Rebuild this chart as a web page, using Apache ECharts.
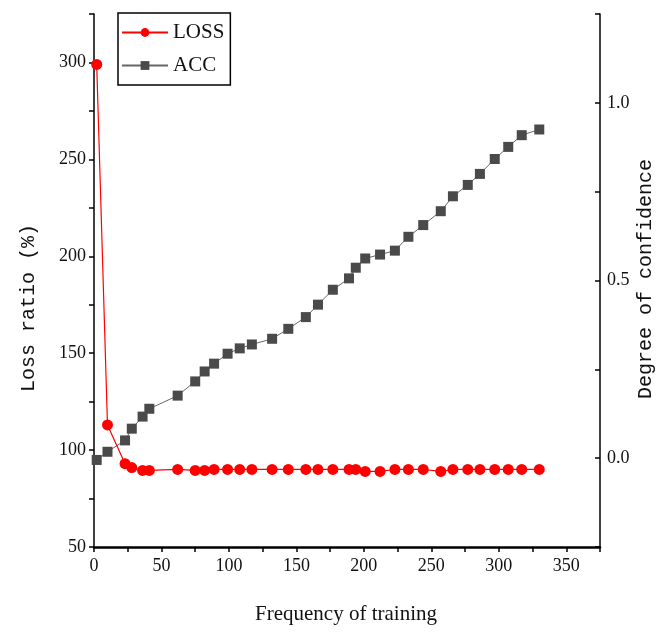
<!DOCTYPE html>
<html>
<head>
<meta charset="utf-8">
<script src="https://cdn.jsdelivr.net/npm/echarts@6/dist/echarts.min.js"></script>
<style>
html,body{margin:0;padding:0;background:#fff;}
#chart{width:657px;height:632px;}
</style>
</head>
<body>
<div id="chart"></div>
<script>
// Data
const iterations = [2, 10, 23, 28, 36, 41, 62, 75, 82, 89, 99, 108, 117, 132, 144, 157, 166, 177, 189, 194, 201, 212, 223, 233, 244, 257, 266, 277, 286, 297, 307, 317, 330];
const lossValues = [299, 113, 93, 91, 89.5, 89.5, 90, 89.5, 89.5, 90, 90, 90, 90, 90, 90, 90, 90, 90, 90, 90, 89, 89, 90, 90, 90, 89, 90, 90, 90, 90, 90, 90, 90];
const accValues = [-0.005, 0.018, 0.05, 0.083, 0.117, 0.139, 0.176, 0.216, 0.244, 0.266, 0.294, 0.309, 0.32, 0.336, 0.364, 0.397, 0.432, 0.474, 0.506, 0.536, 0.562, 0.573, 0.584, 0.623, 0.656, 0.695, 0.737, 0.769, 0.8, 0.842, 0.876, 0.909, 0.925];
const seriesNames = ['LOSS', 'ACC'];
const xAxisTitle = 'Frequency of training';
const leftAxisTitle = 'Loss ratio (%)';
const rightAxisTitle = 'Degree of confidence';

const FONT = '"Liberation Serif", "DejaVu Serif", serif';
const MONO = '"Liberation Mono", "DejaVu Sans Mono", monospace';
const chart = echarts.init(document.getElementById('chart'), null, {renderer: 'canvas'});

const lossData = iterations.map((x, i) => [x, lossValues[i]]);
const accData = iterations.map((x, i) => [x, accValues[i]]);

chart.setOption({
  animation: false,
  backgroundColor: '#fff',
  grid: {left: 94, right: 57, top: 14, bottom: 85, containLabel: false, outerBoundsMode: 'none'},
  legend: {
    left: 118, top: 13,
    orient: 'vertical',
    data: seriesNames,
    itemWidth: 46, itemHeight: 11,
    itemGap: 12,
    padding: [9, 6, 9, 3],
    borderColor: '#000', borderWidth: 1.5,
    textStyle: {fontFamily: FONT, fontSize: 21, color: '#111'}
  },
  xAxis: {
    type: 'value', min: 0, max: 375, interval: 25,
    axisLine: {show: true, onZero: false, lineStyle: {color: '#000', width: 2.5}},
    axisTick: {show: true, inside: false, length: 5, lineStyle: {color: '#000', width: 1.5}},
    axisLabel: {
      fontFamily: FONT, fontSize: 18, color: '#111', margin: 10,
      formatter: v => (v % 50 === 0 ? String(v) : '')
    },
    splitLine: {show: false}
  },
  yAxis: [
    {
      type: 'value', min: 50, max: 325, interval: 25, position: 'left',
      axisLine: {show: true, onZero: false, lineStyle: {color: '#000', width: 1.5}},
      axisTick: {show: true, inside: false, length: 5, lineStyle: {color: '#000', width: 1.5}},
      axisLabel: {
        fontFamily: FONT, fontSize: 18, color: '#111', margin: 8,
        formatter: v => (v % 50 === 0 ? String(v) : '')
      },
      splitLine: {show: false}
    },
    {
      type: 'value', min: -0.25, max: 1.25, interval: 0.25, position: 'right',
      axisLine: {show: true, onZero: false, lineStyle: {color: '#000', width: 1.5}},
      axisTick: {show: true, inside: true, length: 5, lineStyle: {color: '#000', width: 1.5}},
      axisLabel: {
        fontFamily: FONT, fontSize: 18, color: '#111', margin: 7,
        formatter: v => {
          const r = Math.round(v * 100);
          return (r % 50 === 0) ? (r / 100).toFixed(1) : '';
        }
      },
      splitLine: {show: false}
    }
  ],
  graphic: [
    {
      type: 'text', x: 346, y: 614,
      style: {text: xAxisTitle, font: '21px ' + FONT, fill: '#111', align: 'center', verticalAlign: 'middle'}
    },
    {
      type: 'text', x: 29, y: 308, rotation: Math.PI / 2,
      style: {text: leftAxisTitle, font: '20px ' + MONO, fill: '#111', align: 'center', verticalAlign: 'middle'}
    },
    {
      type: 'text', x: 646, y: 279, rotation: Math.PI / 2,
      style: {text: rightAxisTitle, font: '20px ' + MONO, fill: '#111', align: 'center', verticalAlign: 'middle'}
    }
  ],
  series: [
    {
      name: 'ACC', type: 'line', yAxisIndex: 1, data: accData,
      symbol: 'rect', symbolSize: 10, z: 2,
      lineStyle: {color: '#666', width: 1},
      itemStyle: {color: '#4a4a4a'}
    },
    {
      name: 'LOSS', type: 'line', yAxisIndex: 0, data: lossData,
      symbol: 'circle', symbolSize: 11, z: 3,
      lineStyle: {color: '#ff0000', width: 1.2},
      itemStyle: {color: '#ff0000'}
    }
  ]
});
</script>
</body>
</html>
